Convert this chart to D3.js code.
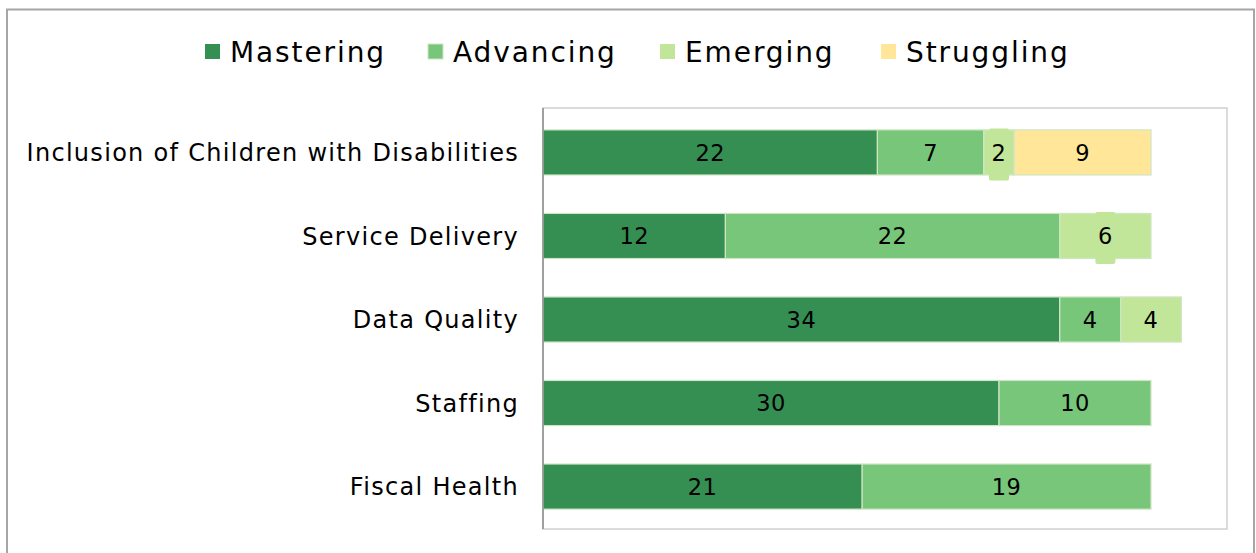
<!DOCTYPE html>
<html>
<head>
<meta charset="utf-8">
<script src="https://cdn.jsdelivr.net/npm/d3@7"></script>
<style>
  body { margin: 0; background: #fff; }
  svg text { font-family: "DejaVu Sans", Verdana, sans-serif; fill: #000; }
</style>
</head>
<body>
<div class="chart_area"></div>
<script>
var categories = ["Inclusion of Children with Disabilities", "Service Delivery", "Data Quality", "Staffing", "Fiscal Health"];
var seriesNames = ["Mastering", "Advancing", "Emerging", "Struggling"];
var mastering = [22, 12, 34, 30, 21];
var advancing = [7, 22, 4, 10, 19];
var emerging = [2, 6, 4, 0, 0];
var struggling = [9, 0, 0, 0, 0];
var colors = ["#358f52", "#78c679", "#c2e699", "#ffe699"];

// labels that get their own filled box (Excel label fill)
var boxedLabels = { "Emerging|0": true, "Emerging|1": true };

var width = 1256, height = 553;
var margin = { top: 108, right: 29, bottom: 24, left: 543 };
var plotW = width - margin.left - margin.right,
    plotH = height - margin.top - margin.bottom;

var svg = d3.select(".chart_area")
    .append("svg")
    .attr("width", width)
    .attr("height", height);

// outer chart border
svg.append("rect")
    .attr("x", 7).attr("y", 9.5)
    .attr("width", 1247).attr("height", 560)
    .attr("fill", "none")
    .attr("stroke", "#a6a6a6")
    .attr("stroke-width", 2);

var g = svg.append("g")
    .attr("transform", "translate(" + margin.left + "," + margin.top + ")");

g.append("rect")
    .attr("x", 0).attr("y", 0)
    .attr("width", plotW).attr("height", plotH)
    .attr("fill", "none")
    .attr("stroke", "#d0d0d0")
    .attr("stroke-width", 1.5);

var table = categories.map(function (c, i) {
    return { cat: c, Mastering: mastering[i], Advancing: advancing[i], Emerging: emerging[i], Struggling: struggling[i], idx: i };
});

var stack = d3.stack().keys(seriesNames);
var layers = stack(table);

var x = d3.scaleLinear().domain([0, 45]).range([0, plotW]);
var y = d3.scaleBand().domain(categories).range([1, plotH + 1])
    .paddingInner(0.46).paddingOuter(0.25);

var layer = g.selectAll(".layer")
    .data(layers)
    .enter()
    .append("g")
    .attr("class", "layer")
    .attr("fill", function (d, i) { return colors[i]; });

layer.selectAll("rect")
    .data(function (d) { return d.filter(function (p) { return p[1] - p[0] > 0; }); })
    .enter()
    .append("rect")
    .attr("x", function (d) { return x(d[0]); })
    .attr("y", function (d) { return y(d.data.cat); })
    .attr("width", function (d) { return x(d[1]) - x(d[0]); })
    .attr("height", y.bandwidth())
    .attr("stroke", "#cfe6c4")
    .attr("stroke-width", 1.2);

// y axis line (left)
g.append("line")
    .attr("x1", 0).attr("x2", 0)
    .attr("y1", 0).attr("y2", plotH)
    .attr("stroke", "#8c8c8c")
    .attr("stroke-width", 1.5);

// category labels
g.selectAll(".cat_label")
    .data(categories)
    .enter()
    .append("text")
    .attr("class", "cat_label")
    .attr("x", -24)
    .attr("y", function (d) { return y(d) + y.bandwidth() / 2; })
    .attr("dy", "0.36em")
    .attr("text-anchor", "end")
    .style("font-size", "24px")
    .style("letter-spacing", "1.3px")
    .text(function (d) { return d; });

// data labels
layers.forEach(function (l, li) {
    l.forEach(function (p, pi) {
        var v = p[1] - p[0];
        if (v <= 0) return;
        var cx = x((p[0] + p[1]) / 2);
        var cy = y(p.data.cat) + y.bandwidth() / 2;
        if (boxedLabels[l.key + "|" + pi]) {
            var bw = String(v).length * 14 + 6;
            g.append("rect")
                .attr("x", cx - bw / 2).attr("y", cy - 24)
                .attr("width", bw).attr("height", 52)
                .attr("rx", 2)
                .attr("fill", colors[li]);
        }
        g.append("text")
            .attr("x", cx)
            .attr("y", cy)
            .attr("dy", "0.36em")
            .attr("text-anchor", "middle")
            .style("font-size", "22.5px")
            .style("letter-spacing", "0.5px")
            .text(v);
    });
});

// legend
var legend = svg.append("g").attr("class", "legend");
var legX = [205, 428, 660, 881];
seriesNames.forEach(function (s, i) {
    var lg = legend.append("g").attr("transform", "translate(" + legX[i] + ",44)");
    lg.append("rect")
        .attr("x", 0).attr("y", 0)
        .attr("width", 15).attr("height", 15)
        .attr("fill", colors[i])
        .attr("stroke", i == 1 ? "#cfe6c4" : "none");
    lg.append("text")
        .attr("x", 25).attr("y", 8)
        .attr("dy", "0.36em")
        .style("font-size", "28px")
        .style("letter-spacing", "1.9px")
        .text(s);
});
</script>
</body>
</html>
